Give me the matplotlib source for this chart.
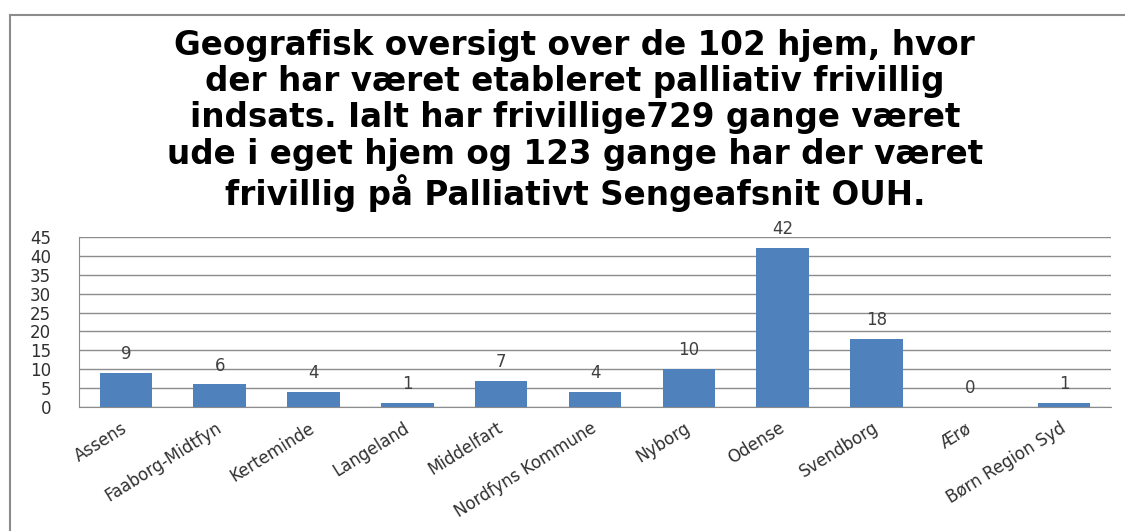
import matplotlib
matplotlib.use("Agg")
import matplotlib.pyplot as plt
from matplotlib.lines import Line2D

# data
kommuner = ["Assens", "Faaborg-Midtfyn", "Kerteminde", "Langeland", "Middelfart",
            "Nordfyns Kommune", "Nyborg", "Odense", "Svendborg", "Ærø",
            "Børn Region Syd"]
antal = [9, 6, 4, 1, 7, 4, 10, 42, 18, 0, 1]
yticks = [0, 5, 10, 15, 20, 25, 30, 35, 40, 45]

titel = ("Geografisk oversigt over de 102 hjem, hvor\n"
         "der har været etableret palliativ frivillig\n"
         "indsats. Ialt har frivillige729 gange været\n"
         "ude i eget hjem og 123 gange har der været\n"
         "frivillig på Palliativt Sengeafsnit OUH.")

fig = plt.figure(figsize=(11.25, 5.31), dpi=100)
ax = fig.add_axes([0.0702, 0.2335, 0.9174, 0.3202])

x = list(range(len(kommuner)))
ax.bar(x, antal, width=0.56, color="#4F81BD", zorder=3)

for xi, v in zip(x, antal):
    ax.text(xi, v + 2.6, str(v), ha="center", va="bottom", fontsize=12,
            color="#404040", family="DejaVu Sans")

ax.set_xlim(-0.5, len(kommuner) - 0.5)
ax.set_ylim(0, 45)
ax.set_yticks(yticks)
ax.set_yticklabels([str(t) for t in yticks], fontsize=12, color="#303030")
ax.tick_params(axis="y", length=0, pad=20)
ax.set_xticks(x)
ax.set_xticklabels(kommuner, rotation=32, ha="right", va="center",
                   rotation_mode="anchor", fontsize=12, color="#303030")
ax.tick_params(axis="x", length=0, pad=14)

ax.grid(axis="y", color="#8C8C8C", linewidth=1, zorder=0)
for s in ["top", "right"]:
    ax.spines[s].set_visible(False)
ax.spines["left"].set_color("#8C8C8C")
ax.spines["bottom"].set_color("#8C8C8C")

fig.text(0.511, 0.945, titel, ha="center", va="top", fontsize=23.5,
         fontweight="bold", family="DejaVu Sans", linespacing=1.12)

# ramme om diagrammet
fig.add_artist(Line2D([10 / 1125, 10 / 1125], [0, 1 - 15 / 531],
                      transform=fig.transFigure, color="#8C8C8C", lw=1.5))
fig.add_artist(Line2D([10 / 1125, 1], [1 - 15 / 531, 1 - 15 / 531],
                      transform=fig.transFigure, color="#8C8C8C", lw=1.5))

fig.savefig("out.png", dpi=100)
